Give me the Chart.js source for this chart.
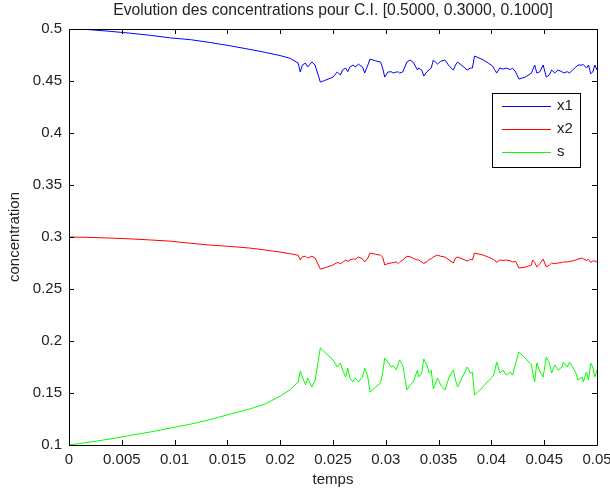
<!DOCTYPE html>
<html lang="fr">
<head>
    <meta charset="UTF-8">
    <title>Evolution des concentrations</title>
    <script src="https://cdn.jsdelivr.net/npm/chart.js"></script>
    <style>
        body {
            margin: 0;
            overflow: hidden;
            background: #fff;
        }
        #wrap {
            position: absolute;
            left: 0;
            top: 0;
            width: 630px;
            height: 494px;
        }
    </style>
</head>
<body>
<div id="wrap">
    <canvas id="chart" width="630" height="494"></canvas>
</div>
<script>
    // temps (s)
    const temps = [0, 0.0018, 0.0039, 0.0058, 0.0077, 0.0096, 0.0115, 0.0134, 0.0152, 0.0171,
        0.0186, 0.02, 0.0209, 0.0217, 0.0219, 0.0221, 0.0224, 0.0226, 0.023, 0.0233,
        0.0238, 0.0242, 0.025, 0.0254, 0.0257, 0.0259, 0.0262, 0.0264, 0.0266, 0.0269,
        0.0271, 0.0274, 0.0278, 0.028, 0.0283, 0.0285, 0.029, 0.0295, 0.0297, 0.0299,
        0.0302, 0.0305, 0.0307, 0.031, 0.0312, 0.0313, 0.0316, 0.032, 0.0323, 0.0326,
        0.033, 0.0331, 0.0334, 0.0336, 0.0339, 0.0341, 0.0343, 0.0345, 0.0349, 0.0352,
        0.0356, 0.036, 0.0364, 0.0366, 0.0368, 0.0375, 0.0377, 0.038, 0.0382, 0.0384,
        0.0392, 0.0397, 0.0401, 0.0403, 0.0405, 0.0408, 0.0411, 0.0414, 0.0418, 0.042,
        0.0423, 0.0426, 0.0432, 0.0438, 0.0439, 0.0441, 0.0443, 0.0446, 0.0449, 0.0452,
        0.0455, 0.0457, 0.046, 0.0463, 0.0467, 0.0468, 0.0472, 0.0474, 0.0477, 0.048,
        0.0482, 0.0486, 0.0487, 0.049, 0.0492, 0.0494, 0.0496, 0.0498, 0.05];

    const x1 = [0.5, 0.4995, 0.4978, 0.496, 0.494, 0.4915, 0.4898, 0.487, 0.484, 0.4805,
        0.4775, 0.4745, 0.472, 0.4673, 0.4587, 0.4654, 0.4673, 0.4635, 0.4683, 0.4654,
        0.449, 0.4505, 0.4538, 0.4587, 0.4558, 0.4606, 0.4625, 0.459, 0.4635, 0.4654,
        0.4635, 0.4663, 0.4635, 0.4577, 0.4654, 0.4712, 0.4695, 0.4683, 0.4625, 0.4538,
        0.4587, 0.459, 0.4577, 0.4587, 0.4587, 0.4577, 0.4587, 0.4683, 0.4702, 0.468,
        0.4606, 0.4625, 0.4606, 0.4548, 0.459, 0.4606, 0.4625, 0.4702, 0.4663, 0.469,
        0.4702, 0.4645, 0.4606, 0.4654, 0.4683, 0.4625, 0.4606, 0.4625, 0.4625, 0.474,
        0.4705, 0.4673, 0.4645, 0.461, 0.4577, 0.4625, 0.4615, 0.4625, 0.461, 0.4625,
        0.4587, 0.4519, 0.4538, 0.4577, 0.4606, 0.4654, 0.4577, 0.459, 0.4654, 0.4538,
        0.456, 0.4606, 0.4577, 0.4606, 0.459, 0.4577, 0.459, 0.4577, 0.4606, 0.4635,
        0.4654, 0.4654, 0.466, 0.4625, 0.4654, 0.457, 0.4587, 0.4654, 0.4606];

    const x2 = [0.3, 0.2997, 0.299, 0.2982, 0.2972, 0.296, 0.294, 0.2922, 0.291, 0.2894,
        0.2875, 0.2855, 0.284, 0.2825, 0.2779, 0.281, 0.2815, 0.2798, 0.2815, 0.2798,
        0.2692, 0.2702, 0.2731, 0.2755, 0.2745, 0.2755, 0.2779, 0.2765, 0.2779, 0.279,
        0.2785, 0.2808, 0.279, 0.276, 0.2798, 0.2846, 0.2835, 0.2825, 0.2808, 0.2731,
        0.2745, 0.275, 0.2755, 0.276, 0.2745, 0.2755, 0.2779, 0.2815, 0.281, 0.2795,
        0.2779, 0.278, 0.276, 0.2745, 0.2765, 0.2785, 0.279, 0.2808, 0.2827, 0.2815,
        0.2808, 0.2779, 0.275, 0.2798, 0.2808, 0.2779, 0.2769, 0.2785, 0.2779, 0.2846,
        0.2827, 0.2808, 0.279, 0.2779, 0.2755, 0.2779, 0.2775, 0.2779, 0.277, 0.276,
        0.2765, 0.2702, 0.271, 0.2731, 0.2779, 0.2755, 0.2712, 0.2745, 0.2788, 0.2712,
        0.273, 0.275, 0.2745, 0.275, 0.2755, 0.276, 0.276, 0.2765, 0.277, 0.2779,
        0.2788, 0.2798, 0.279, 0.2775, 0.2785, 0.2755, 0.277, 0.2769, 0.276];

    const s = [0.1, 0.1025, 0.1058, 0.1092, 0.1125, 0.1163, 0.12, 0.1245, 0.1295, 0.1346,
        0.1395, 0.147, 0.1529, 0.1606, 0.1712, 0.1654, 0.1577, 0.1644, 0.1558, 0.162,
        0.1933, 0.1894, 0.1817, 0.175, 0.1788, 0.1721, 0.1654, 0.174, 0.1644, 0.1606,
        0.1644, 0.1606, 0.1654, 0.174, 0.1654, 0.151, 0.1555, 0.1596, 0.1692, 0.1837,
        0.1798, 0.175, 0.176, 0.1721, 0.1788, 0.1817, 0.1769, 0.1529, 0.1575, 0.1606,
        0.1721, 0.1654, 0.1692, 0.1827, 0.1769, 0.1692, 0.1721, 0.1538, 0.1644, 0.1577,
        0.1529, 0.1654, 0.1721, 0.1625, 0.1558, 0.1702, 0.175, 0.1692, 0.1702, 0.1481,
        0.1558, 0.1615, 0.1654, 0.1702, 0.1798, 0.1692, 0.1721, 0.1673, 0.1702, 0.1673,
        0.1788, 0.1894, 0.1837, 0.1769, 0.1702, 0.1606, 0.1788, 0.1702, 0.1654, 0.1846,
        0.1788, 0.1692, 0.1769, 0.1721, 0.175, 0.1798, 0.175, 0.1798, 0.175, 0.1692,
        0.1625, 0.1654, 0.1606, 0.1702, 0.1625, 0.1788, 0.175, 0.1654, 0.1721];

    const noms = ['x1', 'x2', 's'];
    const couleurs = ['#0000ff', '#ff0000', '#00ff00'];
    const xTicks = [0, 0.005, 0.01, 0.015, 0.02, 0.025, 0.03, 0.035, 0.04, 0.045, 0.05];
    const yTicks = [0.1, 0.15, 0.2, 0.25, 0.3, 0.35, 0.4, 0.45, 0.5];

    const police = "'Liberation Sans', Arial, sans-serif";

    function serie(valeurs) {
        return temps.map((t, i) => ({ x: t, y: valeurs[i] }));
    }

    // cadre + graduations vers l'interieur (style matlab)
    const cadre = {
        id: 'cadre',
        afterDatasetsDraw(chart) {
            const ctx = chart.ctx;
            const a = chart.chartArea;
            const sx = chart.scales.x, sy = chart.scales.y;
            const L = 5;
            ctx.save();
            ctx.strokeStyle = '#000';
            ctx.lineWidth = 1;
            ctx.beginPath();
            ctx.rect(Math.round(a.left) + 0.5, Math.round(a.top) + 0.5,
                Math.round(a.right - a.left), Math.round(a.bottom - a.top));
            xTicks.forEach(v => {
                const px = Math.round(sx.getPixelForValue(v)) + 0.5;
                ctx.moveTo(px, a.bottom); ctx.lineTo(px, a.bottom - L);
                ctx.moveTo(px, a.top); ctx.lineTo(px, a.top + L);
            });
            yTicks.forEach(v => {
                const py = Math.round(sy.getPixelForValue(v)) + 0.5;
                ctx.moveTo(a.left, py); ctx.lineTo(a.left + L, py);
                ctx.moveTo(a.right, py); ctx.lineTo(a.right - L, py);
            });
            ctx.stroke();
            ctx.restore();
        }
    };

    // legende dans le graphique
    const legende = {
        id: 'legende',
        afterDraw(chart) {
            const ctx = chart.ctx;
            const a = chart.chartArea;
            const w = 88, h = 74;
            const x0 = Math.round(a.right) - 17 - w;
            const y0 = Math.round(a.top) + 64;
            ctx.save();
            ctx.fillStyle = '#fff';
            ctx.fillRect(x0, y0, w, h);
            ctx.strokeStyle = '#000';
            ctx.lineWidth = 1;
            ctx.strokeRect(x0 + 0.5, y0 + 0.5, w, h);
            ctx.font = '15px ' + police;
            ctx.textBaseline = 'middle';
            ctx.textAlign = 'left';
            chart.data.datasets.forEach((ds, i) => {
                const y = y0 + 13 + i * 23;
                ctx.strokeStyle = ds.borderColor;
                ctx.beginPath();
                ctx.moveTo(x0 + 10, y + 0.5);
                ctx.lineTo(x0 + 59, y + 0.5);
                ctx.stroke();
                ctx.fillStyle = '#222';
                ctx.fillText(ds.label, x0 + 65, y);
            });
            ctx.restore();
        }
    };

    new Chart(document.getElementById('chart'), {
        type: 'scatter',
        data: {
            datasets: [
                { label: noms[0], data: serie(x1), borderColor: couleurs[0] },
                { label: noms[1], data: serie(x2), borderColor: couleurs[1] },
                { label: noms[2], data: serie(s), borderColor: couleurs[2] }
            ]
        },
        options: {
            responsive: false,
            animation: false,
            datasets: {
                scatter: {
                    showLine: true,
                    pointRadius: 0,
                    borderWidth: 1,
                    tension: 0
                }
            },
            layout: {
                padding: { top: 0, right: 33, bottom: 0, left: 0 }
            },
            plugins: {
                legend: { display: false },
                tooltip: { enabled: false },
                title: {
                    display: true,
                    fullSize: false,
                    text: 'Evolution des concentrations pour C.I. [0.5000, 0.3000, 0.1000]',
                    color: '#222',
                    font: { family: police, size: 15.7, weight: 'normal', lineHeight: 1.15 },
                    padding: { top: 2, bottom: 9 }
                }
            },
            scales: {
                x: {
                    type: 'linear',
                    min: 0,
                    max: 0.05,
                    afterFit(scale) { scale.height = 49; },
                    afterBuildTicks(scale) { scale.ticks = xTicks.map(v => ({ value: v })); },
                    grid: { display: false, drawTicks: false },
                    border: { display: false },
                    ticks: {
                        color: '#222',
                        padding: 6,
                        maxRotation: 0,
                        font: { family: police, size: 15 },
                        callback: v => String(+v.toFixed(4))
                    },
                    title: {
                        display: true,
                        text: 'temps',
                        color: '#222',
                        font: { family: police, size: 15 },
                        padding: { top: 0, bottom: 5 }
                    }
                },
                y: {
                    min: 0.1,
                    max: 0.5,
                    afterFit(scale) { scale.width = 69; },
                    afterBuildTicks(scale) { scale.ticks = yTicks.map(v => ({ value: v })); },
                    grid: { display: false, drawTicks: false },
                    border: { display: false },
                    ticks: {
                        color: '#222',
                        padding: 7,
                        font: { family: police, size: 15 },
                        callback: v => String(+v.toFixed(3))
                    },
                    title: {
                        display: true,
                        text: 'concentration',
                        color: '#222',
                        font: { family: police, size: 15 },
                        padding: { top: 6, bottom: 0 }
                    }
                }
            }
        },
        plugins: [cadre, legende]
    });
</script>
</body>
</html>
